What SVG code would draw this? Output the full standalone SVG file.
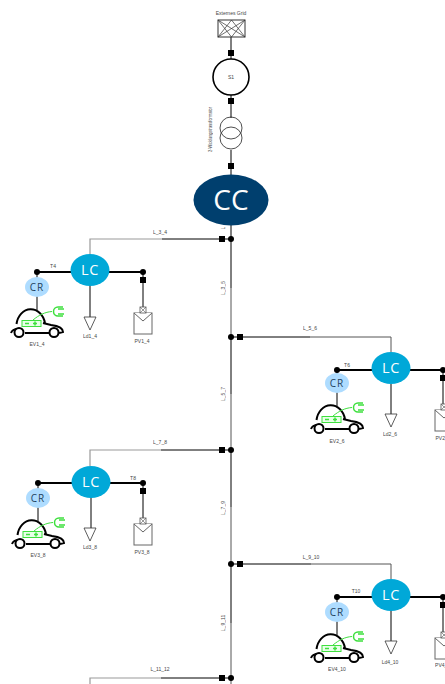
<svg xmlns="http://www.w3.org/2000/svg" width="445" height="684" viewBox="0 0 445 684">
<style>
text{font-family:"Liberation Sans",Arial,sans-serif;font-size:5px;fill:#444;text-anchor:middle;opacity:.99}
.b{fill:none;stroke:#000;stroke-width:1}
.g{fill:none;stroke:#555;stroke-width:1}
.lg{fill:none;stroke:#999;stroke-width:1.2}
.t{fill:none;stroke:#000;stroke-width:2}
.lc{fill:#00a8d8}
.lct{font-family:"Open Sans",sans-serif;font-size:14.500px;fill:#fff;letter-spacing:.6px}
.cr{fill:#aedcff}
.crt{font-family:"Open Sans",sans-serif;font-size:10px;fill:#1d3f5c;letter-spacing:1px}
.pv{fill:#fff;stroke:#666;stroke-width:1}
.load{fill:#fff;stroke:#333;stroke-width:.8}
</style>
<defs>
<rect id="sq" x="-3" y="-3" width="6" height="6" fill="#000"/>
<circle id="dot" r="3" fill="#000"/>
<g id="ev">
<path d="M-20.500 37A14.500 17.500 0 0 1 8 36" fill="none" stroke="#000" stroke-width="2"/>
<path d="M-26 46C-25 43-22 42-19 42M-12 46H12M22 46L26 45C26 41 22 39 14 38L6 36" fill="none" stroke="#000" stroke-width="2"/>
<circle cx="-18" cy="45.500" r="4.500" fill="#fff" stroke="#000" stroke-width="2"/>
<circle cx="17" cy="45.500" r="4.500" fill="#fff" stroke="#000" stroke-width="2"/>
<rect x="-15" y="33.500" width="19" height="6" fill="#e8ffe8" stroke="#3ee03e" stroke-width="1"/>
<path d="M-12 36.500H-8M-2 34.500V38.500M-4 36.500H0" stroke="#3ee03e" stroke-width="1.500" fill="none"/>
<path d="M-4 33C2 28 8 25 15 24.500" fill="none" stroke="#3ee03e" stroke-width="1"/>
<path d="M26 20H21A4.500 4.500 0 0 0 21 29H26M21 22H27M21 27H27" fill="#fff" stroke="#3ee03e" stroke-width="1.500"/>
</g>
<g id="pvi">
<rect x="-9" y="0" width="18" height="21" class="pv"/>
<path d="M-9 0L0 8L9 0" class="pv"/>
<rect x="-3" y="-6" width="6" height="6" fill="#fff" stroke="#555" stroke-width=".8"/>
<path d="M-3 -6L3 0M3 -6L-3 0" stroke="#555" stroke-width=".6"/>
</g>
<path id="tri" d="M-6 0H6L0 13Z" class="load"/>
</defs>

<g id="connectors">
<path class="b" d="M231 37V61M231 95V118M231 150V176"/>
<path class="b" d="M231 225V288M231 337V394M231 450V507M231 564V623"/>
<path class="g" d="M231 288V337M231 394V450M231 507V564M231 623V684"/>
<path class="b" d="M231 239H162M231 337H310M231 450H161M231 564H311M231 678H161"/>
<path class="lg" d="M162 239H90V255M161 450H90V466M161 678H90V684"/>
<path class="g" d="M310 337H391V352M311 564H391V579"/>
<path class="t" d="M37 272H143M38 483H143M337 370H443M337 597H443"/>
<path class="b" d="M37 272V310M143 272V307M90 285V317M38 483V521M143 483V518M91 497V528M337 370V406M443 370V404M391 384V414M337 597V635M443 597V632M391 610V641"/>
<use href="#sq" x="231" y="53"/><use href="#sq" x="231" y="101"/><use href="#sq" x="231" y="166"/>
<use href="#sq" x="222" y="239"/><use href="#sq" x="240" y="337"/><use href="#sq" x="222" y="450"/><use href="#sq" x="240" y="564"/><use href="#sq" x="222" y="678"/>
<use href="#dot" x="231" y="239"/><use href="#dot" x="231" y="337"/><use href="#dot" x="231" y="450"/><use href="#dot" x="231" y="564"/><use href="#dot" x="231" y="678"/>
<use href="#dot" x="37" y="272"/><use href="#dot" x="143" y="272"/><use href="#sq" x="143" y="280"/>
<use href="#dot" x="38" y="483"/><use href="#dot" x="143" y="483"/><use href="#sq" x="143" y="491"/>
<use href="#dot" x="337" y="370"/><use href="#dot" x="443" y="370"/><use href="#sq" x="443" y="378"/>
<use href="#dot" x="337" y="597"/><use href="#dot" x="443" y="597"/><use href="#sq" x="443" y="605"/>
<text x="160" y="234">L_3_4</text><text x="310" y="330">L_5_6</text><text x="160" y="444">L_7_8</text><text x="311" y="559">L_9_10</text><text x="160" y="671">L_11_12</text>
<text transform="translate(225,228) rotate(-90)">L</text>
<text transform="translate(225,288) rotate(-90)">L_3_5</text>
<text transform="translate(225,394) rotate(-90)">L_5_7</text>
<text transform="translate(225,508) rotate(-90)">L_7_9</text>
<text transform="translate(225,623) rotate(-90)">L_9_11</text>
<text x="53" y="268">T4</text><text x="347" y="367">T6</text><text x="133" y="480">T8</text><text x="356" y="593">T10</text>
</g>

<g id="grid">
<text x="231" y="15">Externes Grid</text>
<rect x="218" y="20" width="27" height="17" fill="#fff" stroke="#333" stroke-width="1"/>
<path d="M218 20L231.500 37L245 20M218 37L231.500 20L245 37M218 20L245 37M218 37L245 20" fill="none" stroke="#333" stroke-width=".7"/>
</g>
<g id="s1"><circle cx="231" cy="77" r="18" fill="#fff" stroke="#000" stroke-width="1.600"/><text x="231" y="79">S1</text></g>
<g id="transformer">
<circle cx="231" cy="128" r="11" fill="none" stroke="#222" stroke-width=".8"/><circle cx="231" cy="138" r="11" fill="none" stroke="#222" stroke-width=".8"/>
<text transform="translate(212,129.500) rotate(-90)" textLength="45" lengthAdjust="spacingAndGlyphs">2-Wicklungstransformator</text>
</g>
<g id="cc"><ellipse cx="231" cy="200" rx="37.500" ry="25.500" fill="#003f6e"/><text x="231" y="210" style="font-family:'Open Sans',sans-serif;font-size:28px;fill:#fff">CC</text></g>

<g id="lc1"><ellipse class="lc" cx="90" cy="270" rx="19.500" ry="16"/><text class="lct" x="90" y="275">LC</text></g>
<g id="cr1"><ellipse class="cr" cx="37" cy="287" rx="12" ry="10"/><text class="crt" x="37" y="291">CR</text></g>
<g id="ev1"><use href="#ev" x="37" y="287"/><text x="37" y="346">EV1_4</text></g>
<g id="ld1"><use href="#tri" x="90" y="317"/><text x="90" y="338">Ld1_4</text></g>
<g id="pv1"><use href="#pvi" x="143" y="313"/><text x="142" y="343">PV1_4</text></g>

<g id="lc2"><ellipse class="lc" cx="391" cy="368" rx="19.500" ry="16"/><text class="lct" x="391" y="373">LC</text></g>
<g id="cr2"><ellipse class="cr" cx="337" cy="383" rx="12" ry="10"/><text class="crt" x="337" y="387">CR</text></g>
<g id="ev2"><use href="#ev" x="337" y="383"/><text x="337" y="443">EV2_6</text></g>
<g id="ld2"><use href="#tri" x="391" y="414"/><text x="390" y="436">Ld2_6</text></g>
<g id="pv2"><use href="#pvi" x="444" y="410"/><text x="443" y="440">PV2_6</text></g>

<g id="lc3"><ellipse class="lc" cx="91" cy="482" rx="19.500" ry="16"/><text class="lct" x="91" y="487">LC</text></g>
<g id="cr3"><ellipse class="cr" cx="38" cy="498" rx="12" ry="10"/><text class="crt" x="38" y="502">CR</text></g>
<g id="ev3"><use href="#ev" x="38" y="498"/><text x="38" y="557">EV3_8</text></g>
<g id="ld3"><use href="#tri" x="90" y="528"/><text x="90" y="549">Ld3_8</text></g>
<g id="pv3"><use href="#pvi" x="143" y="524"/><text x="142" y="554">PV3_8</text></g>

<g id="lc4"><ellipse class="lc" cx="391" cy="595" rx="19.500" ry="16"/><text class="lct" x="391" y="600">LC</text></g>
<g id="cr4"><ellipse class="cr" cx="337" cy="612" rx="12" ry="10"/><text class="crt" x="337" y="616">CR</text></g>
<g id="ev4"><use href="#ev" x="337" y="612"/><text x="337" y="671">EV4_10</text></g>
<g id="ld4"><use href="#tri" x="391" y="641"/><text x="390" y="664">Ld4_10</text></g>
<g id="pv4"><use href="#pvi" x="444" y="638"/><text x="444" y="667">PV4_10</text></g>
</svg>
